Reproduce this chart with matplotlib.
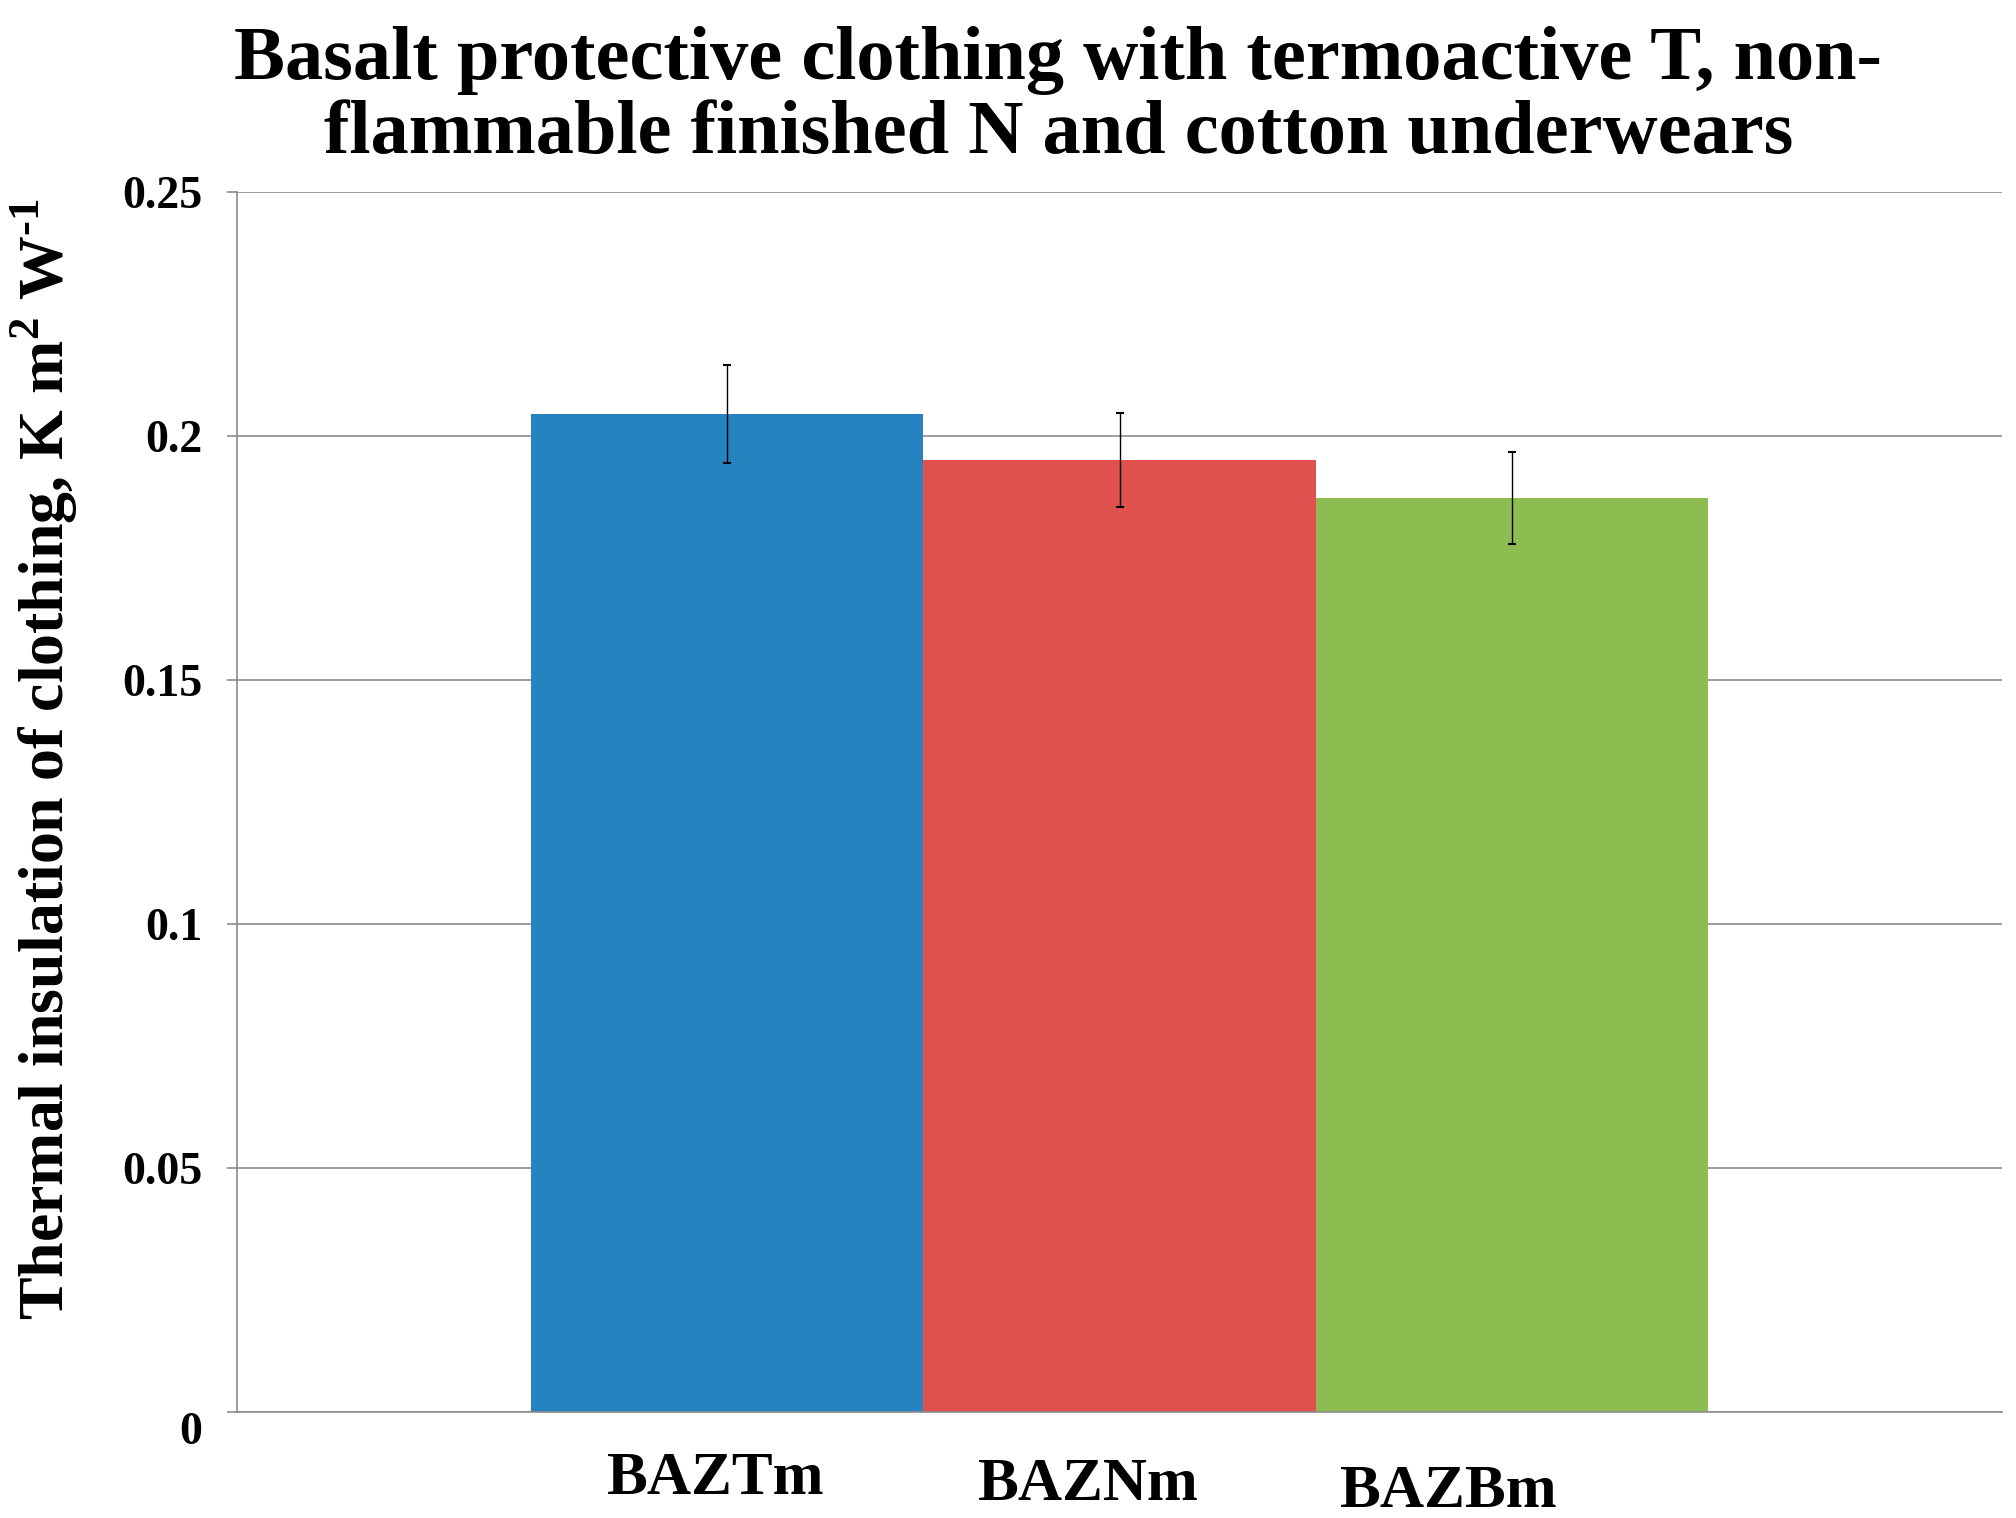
import numpy as np
import matplotlib
matplotlib.use('Agg')
import matplotlib.pyplot as plt
import matplotlib.transforms as mtransforms

plt.rcParams['font.family'] = ['Liberation Serif', 'DejaVu Serif']
plt.rcParams['font.weight'] = 'bold'
plt.rcParams['mathtext.fontset'] = 'custom'
plt.rcParams['mathtext.rm'] = 'Liberation Serif:bold'
plt.rcParams['mathtext.bf'] = 'Liberation Serif:bold'

# data
categories = ['BAZTm', 'BAZNm', 'BAZBm']
insulation = [0.2045, 0.1951, 0.1873]
errors = [0.0101, 0.0097, 0.0094]
colors = ['#2583c0', '#df504e', '#8dbc50']
yticks = [0, 0.05, 0.1, 0.15, 0.2, 0.25]
ytick_labels = ['0', '0.05', '0.1', '0.15', '0.2', '0.25']

fig = plt.figure(figsize=(20.16, 15.18), dpi=100)
ax = fig.add_axes([0.1176, 0.0698, 0.8755, 0.8037])

x = np.arange(len(categories))
ax.bar(x, insulation, width=1.0, color=colors, zorder=2)
ax.errorbar(x, insulation, yerr=errors, fmt='none', ecolor='black',
            elinewidth=1.0, capsize=3, capthick=1.5, zorder=3)

ax.set_xlim(-1.25, 3.25)
ax.set_ylim(0, 0.25)
ax.set_yticks(yticks)
ax.set_yticklabels(ytick_labels, fontsize=33, fontweight='bold')
ax.set_xticks([])

# the "0" label sits a little below its gridline in the original
ax.yaxis.get_major_ticks()[0].label1.set_verticalalignment('top')

# gridlines and spines in gray, like the spreadsheet original
ax.yaxis.grid(True, color='#8c8c8c', linewidth=1.2, zorder=0)
for side in ['top', 'right']:
    ax.spines[side].set_visible(False)
for side in ['left', 'bottom']:
    ax.spines[side].set_color('#8c8c8c')
    ax.spines[side].set_linewidth(1.2)
ax.tick_params(axis='y', length=7, width=1.2, color='#8c8c8c', pad=18)

# staggered category labels under the bars
trans = mtransforms.blended_transform_factory(ax.transData, fig.transFigure)
label_y = [0.026, 0.022, 0.017]
label_dx = [-0.03, -0.08, -0.16]
for i, name in enumerate(categories):
    ax.text(x[i] + label_dx[i], label_y[i], name, transform=trans, ha='center',
            va='center', fontsize=44, fontweight='bold')

ax.set_ylabel(r'Thermal insulation of clothing, K m$^{2}$ W$^{\text{-}1}$',
              fontsize=46, fontweight='bold')
ax.yaxis.set_label_coords(-0.089, 0.535)

fig.text(0.525, 0.983, 'Basalt protective clothing with termoactive T, non-\n'
         'flammable finished N and cotton underwears', ha='center', va='top',
         fontsize=55, fontweight='bold', linespacing=1.09)

plt.savefig('out.png', dpi=100)
